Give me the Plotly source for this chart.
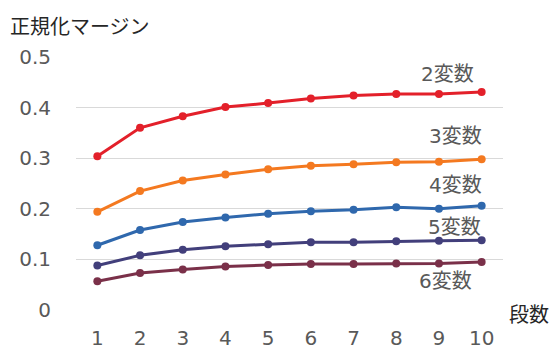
import plotly.graph_objects as go

stages = [1, 2, 3, 4, 5, 6, 7, 8, 9, 10]
series_names = ["2変数", "3変数", "4変数", "5変数", "6変数"]
v2 = [0.304, 0.360, 0.383, 0.401, 0.409, 0.418, 0.424, 0.427, 0.427, 0.431]
v3 = [0.194, 0.235, 0.256, 0.268, 0.278, 0.285, 0.288, 0.292, 0.293, 0.298]
v4 = [0.128, 0.158, 0.174, 0.183, 0.190, 0.195, 0.198, 0.203, 0.200, 0.206]
v5 = [0.088, 0.108, 0.119, 0.126, 0.130, 0.134, 0.134, 0.136, 0.137, 0.138]
v6 = [0.057, 0.073, 0.080, 0.086, 0.089, 0.091, 0.091, 0.092, 0.092, 0.095]
y_ticks = [0, 0.1, 0.2, 0.3, 0.4, 0.5]
y_ticktext = ["0", "0.1", "0.2", "0.3", "0.4", "0.5"]

colors = ["#e3202a", "#f47920", "#2f68ad", "#423f7b", "#7a3049"]
label_shift = [18, 23, 21, 13, -19]
label_xshift = [-6, 2, 2, 1, -8]
all_vals = [v2, v3, v4, v5, v6]

FONT = "DejaVu Sans, Noto Sans CJK JP"
CJK = "Noto Sans CJK JP"
FS = 20

fig = go.Figure()
for name, vals, c in zip(series_names, all_vals, colors):
    fig.add_trace(go.Scatter(
        x=[str(s) for s in stages], y=vals, mode="lines+markers", name=name,
        line=dict(color=c, width=3), marker=dict(color=c, size=8),
        cliponaxis=False, showlegend=False))

last_idx = len(stages) - 1
for name, vals, c, sh, xs in zip(series_names, all_vals, colors, label_shift, label_xshift):
    fig.add_annotation(x=last_idx, y=vals[-1], xref="x", yref="y",
                       text=name, showarrow=False, xanchor="right", yanchor="middle",
                       xshift=xs, yshift=sh, font=dict(family=FONT, size=FS, color="#595959"))

fig.add_annotation(x=1, y=0, xref="paper", yref="y", text="段数", showarrow=False,
                   xanchor="left", yanchor="middle", xshift=4, yshift=-3,
                   font=dict(family=CJK, size=FS, color="#262626"))

fig.update_layout(
    width=554, height=350,
    margin=dict(l=76, r=51, t=57, b=40),
    paper_bgcolor="white", plot_bgcolor="white",
    font=dict(family=FONT, size=FS, color="#595959"),
    title=dict(text="正規化マージン", xref="container", yref="container",
               x=10/554, xanchor="left", y=1-27/350, yanchor="middle",
               font=dict(family=CJK, size=FS, color="#262626")),
    xaxis=dict(type="category", showgrid=False, zeroline=False, showline=False,
               ticks="", ticklabelstandoff=14, automargin=False,
               tickfont=dict(family=FONT, size=FS, color="#595959"), range=[-0.5, 9.5]),
    yaxis=dict(range=[0, 0.5], tickvals=y_ticks, ticktext=y_ticktext, showgrid=True,
               gridcolor="#d9d9d9", gridwidth=1, zeroline=False, showline=False,
               ticks="", ticklabelstandoff=24, automargin=False,
               tickfont=dict(family=FONT, size=FS, color="#595959")),
)

fig.write_html("out.html")
